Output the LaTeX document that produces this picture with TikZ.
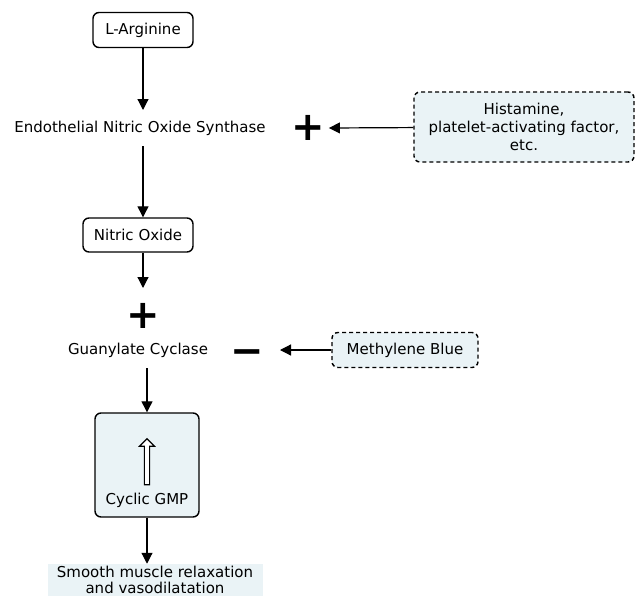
\documentclass[tikz,border=0pt]{standalone}
\usepackage{fontspec}
\setmainfont{DejaVu Sans}
\usetikzlibrary{arrows.meta,shapes.arrows}
\definecolor{paleblue}{HTML}{EAF3F6}
\tikzset{
  box/.style={draw, line width=1.4pt, rounded corners=6pt, fill=white, inner sep=4pt},
  agent/.style={box, dashed, dash pattern=on 4pt off 3pt, fill=paleblue, align=center},
  sign/.style={font=\fontsize{40}{40}\selectfont\bfseries, inner sep=0pt},
  flow/.style={-{Triangle[length=11pt,width=11pt]}, line width=1.2pt}
}
\begin{document}
\begin{tikzpicture}[x=1pt, y=-1pt, font=\fontsize{15}{18}\selectfont]
				\useasboundingbox (0,0) rectangle (638,600);

				\node (Arg) [box, minimum width=100pt, minimum height=35pt] at (143, 30) {L-Arginine};
				\node (Enos) at (140, 128) {Endothelial Nitric Oxide Synthase};
				\draw [flow] (Arg) -- (Arg |- 0,110);

				\node (Plus1) [sign] at (308, 128) {+};
				\node (Hist) [agent, minimum width=220pt, minimum height=70pt] at (524, 127) {Histamine,\\platelet-activating factor,\\etc.};
				\draw [flow] (Hist) -- ([xshift=4pt]Plus1.east);

				\node (NO) [box, minimum width=110pt, minimum height=34pt] at (138, 235) {Nitric Oxide};
				\draw [flow] (Arg |- 0,146) -- (Arg |- NO.north);

				\node (Plus2) [sign] at (143, 316) {+};
				\draw [flow] (NO.south -| Plus2) -- (Plus2 |- 0,288);

				\node (GC) at (138, 350) {Guanylate Cyclase};
				\node (Minus) [sign] at (247, 357) {−};
				\node (MB) [agent, minimum width=146pt, minimum height=35pt] at (405, 350) {Methylene Blue};
				\draw [flow] (MB) -- (MB -| 280,0);

				\node (Cgmp) [box, fill=paleblue, minimum width=104pt, minimum height=104pt] at (147, 465) {};
				\node (Up) [single arrow, draw, fill=white, line width=1.1pt, shape border rotate=90,
				  minimum height=46pt, minimum width=15pt, single arrow head extend=3pt, single arrow tip angle=90, inner sep=1pt] at (147, 463) {};
				\node (CgmpText) at (147, 500) {Cyclic GMP};
				\draw [flow] (Cgmp |- 0,368) -- (Cgmp.north);

				\node (Smooth) [fill=paleblue, align=center, minimum width=215pt, inner sep=2pt,
				  font=\fontsize{15}{16.5}\selectfont] at (155, 580) {Smooth muscle relaxation\\and vasodilatation};
				\draw [flow] (Cgmp) -- (Cgmp |- Smooth.north);
			\end{tikzpicture}
\end{document}
